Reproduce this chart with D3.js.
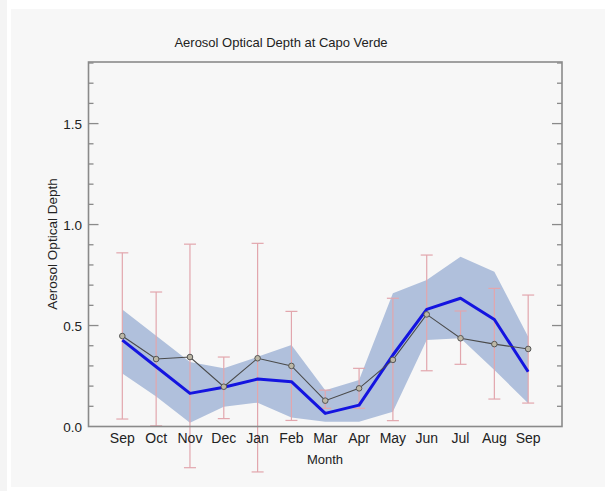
<!DOCTYPE html>
<html>
<head>
<meta charset="utf-8">
<script src="https://cdn.jsdelivr.net/npm/d3@7"></script>
<style>
	body { margin: 0; background: #fff; }
	svg { display: block; font-family: "Liberation Sans", Arial, sans-serif; }
</style>
</head>
<body>
<svg width="605" height="491"></svg>
<script>
var months = ["Sep", "Oct", "Nov", "Dec", "Jan", "Feb", "Mar", "Apr", "May", "Jun", "Jul", "Aug", "Sep"];
var observed = [0.448, 0.334, 0.344, 0.197, 0.338, 0.30, 0.128, 0.189, 0.33, 0.555, 0.437, 0.408, 0.384];
var errLow = [0.037, 0.003, -0.204, 0.039, -0.225, 0.03, 0.09, 0.09, 0.029, 0.276, 0.308, 0.136, 0.116];
var errHigh = [0.86, 0.666, 0.903, 0.344, 0.907, 0.57, 0.18, 0.288, 0.635, 0.849, 0.572, 0.684, 0.651];
var model = [0.428, 0.296, 0.164, 0.194, 0.235, 0.222, 0.065, 0.106, 0.354, 0.58, 0.635, 0.53, 0.271];
var bandLow = [0.263, 0.148, 0.019, 0.098, 0.118, 0.045, 0.024, 0.024, 0.073, 0.428, 0.437, 0.28, 0.115];
var bandHigh = [0.58, 0.45, 0.32, 0.288, 0.345, 0.403, 0.18, 0.23, 0.66, 0.725, 0.84, 0.766, 0.445];
var yTicks = [0, 0.5, 1.0, 1.5];

var svg = d3.select("svg");

// page background pieces
svg.append("rect").attr("x", 0).attr("y", 0).attr("width", 7).attr("height", 491).attr("fill", "#f4f4f4");
svg.append("rect").attr("x", 11).attr("y", 9).attr("width", 594).attr("height", 478).attr("fill", "#f7f7f7");

var pLeft = 88.5, pRight = 562, pTop = 62, pBottom = 426.5;

var x = d3.scaleLinear().domain([-1, 13]).range([pLeft, pRight]);
var y = d3.scaleLinear().domain([0, 1.805]).range([pBottom, pTop]);

var idx = d3.range(months.length);

var plot = svg.append("g");

// spread band
var area = d3.area()
	.x(function(i) { return x(i); })
	.y0(function(i) { return y(bandLow[i]); })
	.y1(function(i) { return y(bandHigh[i]); });

plot.append("path")
	.datum(idx)
	.attr("d", area)
	.attr("fill", "#b0c0dc");

// error bars
var eb = plot.selectAll(".err").data(idx).enter().append("g").attr("class", "err")
	.attr("stroke", "#e2a6ad")
	.attr("stroke-width", 1.2);

eb.append("line")
	.attr("x1", function(i) { return x(i); })
	.attr("x2", function(i) { return x(i); })
	.attr("y1", function(i) { return y(errLow[i]); })
	.attr("y2", function(i) { return y(errHigh[i]); });
eb.append("line")
	.attr("x1", function(i) { return x(i) - 6; })
	.attr("x2", function(i) { return x(i) + 6; })
	.attr("y1", function(i) { return y(errLow[i]); })
	.attr("y2", function(i) { return y(errLow[i]); });
eb.append("line")
	.attr("x1", function(i) { return x(i) - 6; })
	.attr("x2", function(i) { return x(i) + 6; })
	.attr("y1", function(i) { return y(errHigh[i]); })
	.attr("y2", function(i) { return y(errHigh[i]); });

// model line
plot.append("path")
	.datum(model)
	.attr("d", d3.line().x(function(d, i) { return x(i); }).y(function(d) { return y(d); }))
	.attr("fill", "none")
	.attr("stroke", "#1414e0")
	.attr("stroke-width", 3)
	.attr("stroke-linejoin", "round");

// observed line + markers
plot.append("path")
	.datum(observed)
	.attr("d", d3.line().x(function(d, i) { return x(i); }).y(function(d) { return y(d); }))
	.attr("fill", "none")
	.attr("stroke", "#4a4a4a")
	.attr("stroke-width", 1.1);

plot.selectAll(".obs").data(observed).enter().append("circle")
	.attr("class", "obs")
	.attr("cx", function(d, i) { return x(i); })
	.attr("cy", function(d) { return y(d); })
	.attr("r", 2.8)
	.attr("fill", "#bdb8a6")
	.attr("stroke", "#555")
	.attr("stroke-width", 1);

// frame
svg.append("rect")
	.attr("x", pLeft).attr("y", pTop)
	.attr("width", pRight - pLeft).attr("height", pBottom - pTop)
	.attr("fill", "none")
	.attr("stroke", "#8a8a8a")
	.attr("stroke-width", 1.6);

// y ticks (inside, both sides)
var minor = d3.range(1, 19).map(function(k) { return k / 10; });
var ticks = svg.append("g").attr("stroke", "#8a8a8a").attr("stroke-width", 1.3);
minor.forEach(function(v) {
	var major = Math.abs(v * 2 - Math.round(v * 2)) < 1e-6;
	var len = major ? 10 : 5;
	ticks.append("line").attr("x1", pLeft).attr("x2", pLeft + len).attr("y1", y(v)).attr("y2", y(v));
	ticks.append("line").attr("x1", pRight - len).attr("x2", pRight).attr("y1", y(v)).attr("y2", y(v));
});

svg.selectAll(".ylab").data(yTicks).enter().append("text")
	.attr("class", "ylab")
	.attr("x", 82)
	.attr("y", function(d) { return y(d) + 5; })
	.attr("text-anchor", "end")
	.attr("font-size", 13.5)
	.attr("fill", "#222")
	.text(function(d) { return d.toFixed(1); });

svg.selectAll(".xlab").data(months).enter().append("text")
	.attr("class", "xlab")
	.attr("x", function(d, i) { return x(i); })
	.attr("y", 443)
	.attr("text-anchor", "middle")
	.attr("font-size", 14)
	.attr("fill", "#222")
	.text(function(d) { return d; });

svg.append("text")
	.attr("x", 325).attr("y", 464)
	.attr("text-anchor", "middle")
	.attr("font-size", 13)
	.attr("fill", "#222")
	.text("Month");

svg.append("text")
	.attr("transform", "translate(57,244) rotate(-90)")
	.attr("text-anchor", "middle")
	.attr("font-size", 13.5)
	.attr("fill", "#222")
	.text("Aerosol Optical Depth");

svg.append("text")
	.attr("x", 281).attr("y", 47)
	.attr("text-anchor", "middle")
	.attr("font-size", 13)
	.attr("fill", "#222")
	.text("Aerosol Optical Depth at Capo Verde");
</script>
</body>
</html>
